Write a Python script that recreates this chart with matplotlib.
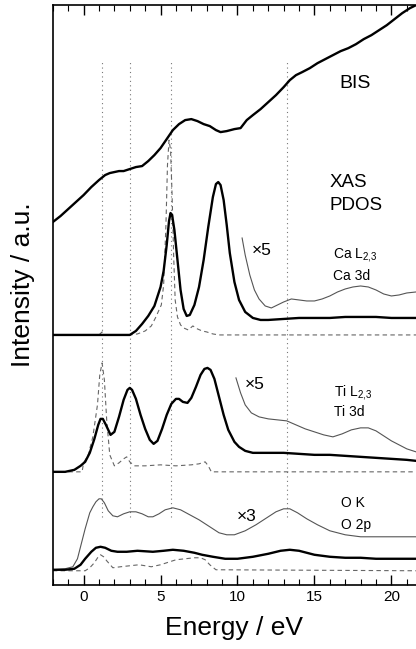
import numpy as np
import matplotlib
matplotlib.use("Agg")
import matplotlib.pyplot as plt

plt.rcParams["font.family"] = ["Liberation Sans", "DejaVu Sans"]
plt.rcParams["mathtext.fontset"] = "custom"
plt.rcParams["mathtext.rm"] = "Liberation Sans"
plt.rcParams["mathtext.it"] = "Liberation Sans"

# ---- data (energy in eV, intensity in arbitrary offset units) ----
bis_e = [-2.0, -1.5, -1.0, -0.5, 0.0, 0.5, 1.0, 1.4, 1.7, 2.0, 2.3, 2.6, 3.0, 3.4, 3.8,
         4.2, 4.6, 5.0, 5.4, 5.8, 6.2, 6.6, 7.0, 7.4, 7.8, 8.2, 8.6, 8.9, 9.3, 9.8, 10.2,
         10.6, 11.0, 11.5, 12.0, 12.5, 13.0, 13.4, 13.8, 14.2, 14.7, 15.2, 15.7, 16.2,
         16.7, 17.2, 17.7, 18.2, 18.7, 19.2, 19.7, 20.2, 20.7, 21.2, 21.6]
bis_i = [36.3, 36.9, 37.6, 38.3, 39.0, 39.8, 40.5, 41.0, 41.2, 41.3, 41.4, 41.4, 41.6, 41.8,
         41.9, 42.4, 43.0, 43.7, 44.6, 45.5, 46.1, 46.5, 46.6, 46.4, 46.1, 45.9, 45.5, 45.3,
         45.4, 45.6, 45.7, 46.5, 47.0, 47.6, 48.3, 49.0, 49.8, 50.5, 51.0, 51.3, 51.7, 52.2,
         52.6, 53.0, 53.4, 53.7, 54.1, 54.6, 55.0, 55.5, 56.0, 56.6, 57.2, 57.7, 58.0]

ca_e = [-2.0, 3.0, 3.4, 3.8, 4.2, 4.6, 5.0, 5.2, 5.4, 5.55, 5.65, 5.75, 5.9, 6.1, 6.3, 6.5,
        6.7, 6.9, 7.2, 7.5, 7.8, 8.1, 8.4, 8.6, 8.75, 8.9, 9.1, 9.3, 9.5, 9.8, 10.1, 10.5,
        11.0, 11.5, 12.0, 13.0, 14.0, 15.0, 16.0, 17.0, 18.0, 19.0, 20.0, 21.0, 21.6]
ca_i = [25.0, 25.0, 25.4, 26.1, 26.9, 27.9, 29.8, 31.4, 34.0, 36.4, 37.2, 37.0, 35.5, 32.5,
        29.5, 27.6, 26.9, 27.0, 28.0, 29.8, 32.5, 35.8, 38.8, 40.1, 40.3, 40.0, 38.5, 36.0,
        33.2, 30.3, 28.5, 27.3, 26.7, 26.5, 26.5, 26.6, 26.7, 26.7, 26.7, 26.8, 26.8, 26.8,
        26.7, 26.7, 26.7]

ca5_e = [10.3, 10.5, 10.8, 11.1, 11.4, 11.8, 12.2, 12.6, 13.0, 13.5, 14.0, 14.5, 15.0, 15.5,
         16.0, 16.5, 17.0, 17.5, 18.0, 18.5, 19.0, 19.5, 20.0, 20.5, 21.0, 21.6]
ca5_i = [34.7, 33.0, 31.0, 29.5, 28.6, 27.9, 27.7, 28.0, 28.3, 28.6, 28.5, 28.4, 28.4, 28.6,
         28.9, 29.3, 29.6, 29.8, 29.9, 29.8, 29.5, 29.1, 28.9, 29.0, 29.2, 29.3]

ca3d_e = [-2.0, 1.0, 1.2, 1.4, 3.0, 3.5, 4.0, 4.4, 4.7, 4.9, 5.05, 5.2, 5.35, 5.45, 5.55,
          5.65, 5.75, 5.85, 5.95, 6.1, 6.3, 6.5, 6.8, 7.1, 7.4, 7.7, 8.0, 8.4, 8.8, 21.6]
ca3d_i = [25.0, 25.0, 25.3, 25.0, 25.0, 25.1, 25.4, 25.9, 26.8, 27.5, 28.0, 30.0, 36.0, 42.0,
          44.5, 43.5, 39.0, 33.0, 28.5, 26.8, 26.0, 25.7, 25.5, 25.9, 25.6, 25.4, 25.3, 25.1,
          25.0, 25.0]

ti_e = [-2.0, -1.2, -0.6, -0.2, 0.1, 0.4, 0.7, 0.95, 1.1, 1.25, 1.45, 1.75, 2.0, 2.3, 2.6,
        2.85, 3.0, 3.15, 3.4, 3.7, 4.0, 4.3, 4.55, 4.8, 5.1, 5.4, 5.7, 6.0, 6.2, 6.45, 6.75,
        7.0, 7.3, 7.6, 7.85, 8.05, 8.25, 8.5, 8.8, 9.1, 9.4, 9.8, 10.1, 10.5, 11.0, 12.0,
        13.0, 14.0, 15.0, 16.0, 17.0, 18.0, 19.0, 20.0, 21.0, 21.6]
ti_i = [11.3, 11.3, 11.5, 11.9, 12.3, 13.2, 14.6, 16.0, 16.6, 16.6, 16.0, 15.0, 15.3, 16.8,
        18.5, 19.5, 19.7, 19.5, 18.6, 17.0, 15.6, 14.5, 14.1, 14.4, 15.6, 17.0, 18.1, 18.6,
        18.6, 18.3, 18.2, 18.7, 19.8, 21.0, 21.6, 21.7, 21.5, 20.6, 18.8, 17.0, 15.5, 14.3,
        13.8, 13.4, 13.2, 13.2, 13.2, 13.1, 13.0, 13.0, 12.9, 12.8, 12.7, 12.6, 12.5, 12.4]

ti5_e = [9.9, 10.2, 10.5, 10.9, 11.4, 12.0, 12.6, 13.2, 13.8, 14.4, 15.0, 15.6, 16.2, 16.8,
         17.4, 18.0, 18.5, 19.0, 19.5, 20.0, 20.5, 21.0, 21.6]
ti5_i = [20.7, 19.2, 18.0, 17.2, 16.8, 16.6, 16.5, 16.4, 16.0, 15.6, 15.3, 15.0, 14.8, 15.1,
         15.5, 15.7, 15.7, 15.4, 14.9, 14.4, 14.0, 13.6, 13.3]

ti3d_e = [-2.0, -0.1, 0.0, 0.3, 0.6, 0.9, 1.05, 1.2, 1.35, 1.5, 1.7, 2.0, 2.3, 2.6, 2.8, 3.0,
          3.3, 4.0, 5.0, 6.0, 7.0, 7.5, 7.9, 8.1, 8.3, 21.6]
ti3d_i = [11.3, 11.3, 12.2, 13.0, 14.8, 18.0, 21.0, 22.2, 20.5, 16.5, 13.0, 11.9, 12.2, 12.6,
          12.8, 12.3, 11.9, 11.9, 12.0, 11.9, 12.0, 12.1, 12.3, 11.9, 11.3, 11.3]

ok_e = [-2.0, -1.2, -0.7, -0.4, -0.2, 0.1, 0.4, 0.6, 0.8, 1.0, 1.15, 1.35, 1.6, 1.9, 2.2,
        2.6, 3.0, 3.4, 3.8, 4.2, 4.5, 4.9, 5.3, 5.8, 6.3, 6.9, 7.5, 8.2, 8.8, 9.3, 9.8,
        10.5, 11.2, 11.9, 12.5, 13.0, 13.4, 13.9, 14.5, 15.2, 16.0, 17.0, 18.0, 19.0, 20.0,
        21.0, 21.6]
ok_i = [1.5, 1.6, 1.8, 2.6, 3.8, 5.6, 7.2, 7.8, 8.3, 8.6, 8.6, 8.2, 7.4, 6.9, 6.8, 7.1, 7.3,
        7.3, 7.1, 6.8, 6.8, 7.1, 7.5, 7.7, 7.5, 7.0, 6.5, 5.8, 5.2, 5.0, 5.0, 5.4, 6.0, 6.7,
        7.3, 7.6, 7.6, 7.2, 6.6, 6.0, 5.4, 5.0, 4.8, 4.8, 4.8, 4.8, 4.8]

okt_e = [-2.0, -1.2, -0.6, -0.2, 0.1, 0.5, 0.8, 1.1, 1.4, 1.8, 2.2, 2.8, 3.5, 4.5, 5.2, 5.8,
         6.5, 7.2, 7.7, 8.4, 9.2, 10.0, 11.0, 12.0, 12.8, 13.4, 14.0, 15.0, 16.0, 17.0, 18.0,
         19.0, 20.0, 21.0, 21.6]
okt_i = [1.5, 1.5, 1.6, 2.0, 2.6, 3.3, 3.7, 3.8, 3.7, 3.4, 3.3, 3.3, 3.4, 3.3, 3.4, 3.5,
         3.4, 3.2, 3.0, 2.8, 2.6, 2.6, 2.8, 3.1, 3.4, 3.5, 3.4, 3.0, 2.8, 2.7, 2.7, 2.6, 2.6,
         2.6, 2.6]

o2p_e = [-2.0, 0.1, 0.4, 0.7, 0.95, 1.1, 1.3, 1.5, 1.9, 2.4, 3.0, 3.6, 4.4, 5.0, 5.6, 6.0,
         6.6, 7.2, 7.6, 7.9, 8.2, 8.6, 21.6]
o2p_i = [1.4, 1.4, 1.7, 2.2, 2.8, 3.0, 2.8, 2.4, 1.7, 1.8, 1.9, 2.0, 1.8, 2.0, 2.3, 2.5,
         2.6, 2.7, 2.7, 2.5, 2.0, 1.5, 1.4]

marker_e = [1.2, 3.0, 5.7, 13.2]

# ---- figure ----
fig = plt.figure(figsize=(4.16, 6.49), dpi=100)
ax = fig.add_axes([0.127, 0.099, 0.873, 0.893])

thick = dict(color="black", lw=1.7, zorder=3)
thin = dict(color="#555555", lw=0.8, zorder=3)
dash = dict(color="#666666", lw=0.8, ls=(0, (4, 3)), zorder=2)

ax.vlines(marker_e, 6.8, 52.5, colors="#777777", lw=0.8, linestyles=(0, (1, 3)), zorder=1)

ax.plot(bis_e, bis_i, **thick)
ax.plot(ca_e, ca_i, **thick)
ax.plot(ca5_e, ca5_i, **thin)
ax.plot(ca3d_e, ca3d_i, **dash)
ax.plot(ti_e, ti_i, **thick)
ax.plot(ti5_e, ti5_i, **thin)
ax.plot(ti3d_e, ti3d_i, **dash)
ax.plot(ok_e, ok_i, **thin)
ax.plot(okt_e, okt_i, **thick)
ax.plot(o2p_e, o2p_i, **dash)

ax.text(16.6, 50.2, "BIS", fontsize=14, va="center")
ax.text(16.0, 40.3, "XAS", fontsize=13.5, va="center")
ax.text(16.0, 38.0, "PDOS", fontsize=13.5, va="center")
ax.text(10.9, 33.5, "×5", fontsize=12.5, va="center")
ax.text(16.2, 33.0, "Ca L$_{2{,}3}$", fontsize=10, va="center")
ax.text(16.2, 30.9, "Ca 3d", fontsize=10, va="center")
ax.text(10.45, 20.0, "×5", fontsize=12.5, va="center")
ax.text(16.3, 19.2, "Ti L$_{2{,}3}$", fontsize=10, va="center")
ax.text(16.3, 17.3, "Ti 3d", fontsize=10, va="center")
ax.text(9.95, 6.8, "×3", fontsize=12.5, va="center")
ax.text(16.75, 8.2, "O K", fontsize=10, va="center")
ax.text(16.75, 6.0, "O 2p", fontsize=10, va="center")

ax.set_xlim(-2, 21.6)
ax.set_ylim(0, 58)
ax.set_xticks([0, 5, 10, 15, 20])
ax.set_xticks(np.arange(-2, 22, 1), minor=True)
ax.set_yticks([])
ax.tick_params(axis="x", which="both", direction="in", top=True, labelsize=11)
ax.tick_params(axis="x", which="major", length=7, width=1)
ax.tick_params(axis="x", which="minor", length=4, width=0.8)
ax.spines["right"].set_visible(False)
for s in ["left", "bottom", "top"]:
    ax.spines[s].set_linewidth(1.2)

ax.set_xlabel("Energy / eV", fontsize=19, labelpad=9)
ax.set_ylabel("Intensity / a.u.", fontsize=19)
ax.yaxis.set_label_coords(-0.05, 0.517)

fig.savefig("out.png", dpi=100)
